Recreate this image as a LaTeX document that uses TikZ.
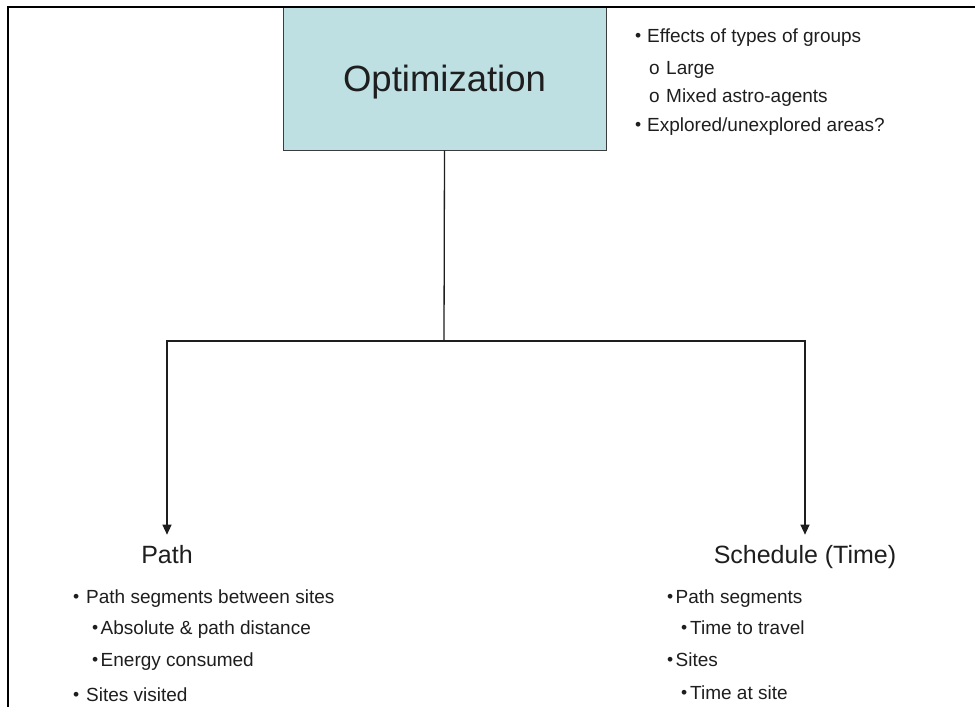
\documentclass[tikz,border=0pt]{standalone}
\usepackage{fontspec}
\setmainfont{Liberation Sans}
\usetikzlibrary{arrows.meta}
\definecolor{boxfill}{RGB}{190,224,227}
\definecolor{boxline}{RGB}{60,60,60}
\definecolor{ink}{RGB}{30,30,30}
\newcommand{\bdot}{\raisebox{0.6pt}{\fontsize{17.5}{17.5}\selectfont\textbullet}}
\newcommand{\blt}[2]{\makebox[#1][l]{\bdot}#2}
\newcommand{\olt}[2]{\makebox[#1][l]{o}#2}
\begin{document}
\begin{tikzpicture}[x=1pt,y=-1pt,
  txt/.style={anchor=base west, inner sep=0pt, text=ink, font=\fontsize{19}{22}\selectfont},
  ttl/.style={anchor=base, inner sep=0pt, text=ink, font=\fontsize{25}{30}\selectfont},
  conn/.style={draw=ink, line width=1.3pt},
  arr/.style={conn, -{Triangle[length=10pt,width=9pt]}},
  ]
\useasboundingbox (0,0) rectangle (975,707);
\fill[white] (0,0) rectangle (975,707);
% main box
\node[draw=boxline, fill=boxfill, line width=1pt, minimum width=323pt, minimum height=143pt,
      text depth=0pt, text=ink, font=\fontsize{36.5}{40}\selectfont] (opt) at (444.5,78.5) {Optimization};
% frame
\draw[line width=2.8pt, black] (8,707) -- (8,7) -- (975,7);
% titles
\node[ttl] (pathT) at (167,563) {Path};
\node[ttl] (schedT) at (805,563) {Schedule (Time)};
% connectors
\coordinate (hub) at (444,341);
\draw[conn] (opt.south) -- (hub);
\draw[arr, shorten >=10pt] (hub) -| (pathT.north);
\draw[arr, shorten >=10pt] (hub) -| (schedT.north);
% right top notes
\node[txt] (n1) at (635,42) {\blt{12pt}{Effects of types of groups}};
\node[txt] (n2) at (649,74) {\olt{17pt}{Large}};
\node[txt] (n3) at (649,102) {\olt{17pt}{Mixed astro-agents}};
\node[txt] (n4) at (635,131) {\blt{12pt}{Explored/unexplored areas?}};
% path list
\node[txt] (p1) at (73,603) {\blt{13pt}{Path segments between sites}};
\node[txt] (p2) at (92,634) {\blt{8.5pt}{Absolute \& path distance}};
\node[txt] (p3) at (92,666) {\blt{8.5pt}{Energy consumed}};
\node[txt] (p4) at (73,701) {\blt{13pt}{Sites visited}};
% schedule list
\node[txt] (s1) at (667,603) {\blt{8.5pt}{Path segments}};
\node[txt] (s2) at (681,634) {\blt{9pt}{Time to travel}};
\node[txt] (s3) at (667,666) {\blt{8.5pt}{Sites}};
\node[txt] (s4) at (681,699) {\blt{9pt}{Time at site}};
\end{tikzpicture}
\end{document}
